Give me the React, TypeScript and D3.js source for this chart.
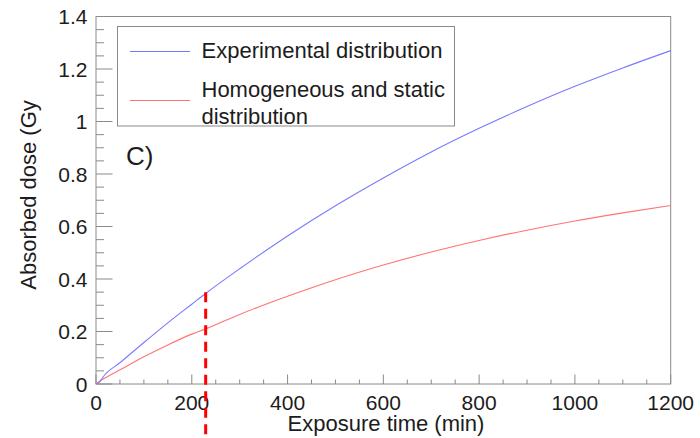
import React from "react";
import * as d3 from "d3";

const timeMin = [0, 8, 14, 50, 100, 150, 200, 229, 300, 400, 500, 600, 700, 800, 900, 1000, 1100, 1200];
const experimental = [0, 0.008, 0.025, 0.081, 0.158, 0.233, 0.304, 0.345, 0.439, 0.564, 0.679, 0.785, 0.884, 0.974, 1.057, 1.134, 1.204, 1.27];
const homogeneous = [0, 0.012, 0.018, 0.054, 0.104, 0.149, 0.19, 0.21, 0.265, 0.334, 0.397, 0.453, 0.503, 0.547, 0.586, 0.621, 0.652, 0.68];
const xTicks = [0, 200, 400, 600, 800, 1000, 1200];
const yTicks = [0, 0.2, 0.4, 0.6, 0.8, 1, 1.2, 1.4];
const markerTime = 229;
const markerTopDose = 0.35;
const legendLabels = ["Experimental distribution", ["Homogeneous and static", "distribution"]];
const panelLabel = "C)";
const xTitle = "Exposure time (min)";
const yTitle = "Absorbed dose (Gy";

const W = 700;
const H = 438;
const FONT = "'Liberation Sans', Arial, Helvetica, sans-serif";

export default function App() {
  const x = d3.scaleLinear().domain([0, 1200]).range([96, 670.7]);
  const y = d3.scaleLinear().domain([0, 1.4]).range([384, 16.5]);
  const line = (vals: number[]) =>
    d3
      .line<number>()
      .x((_, i) => x(timeMin[i]))
      .y((v) => y(v))
      .curve(d3.curveMonotoneX)(vals) || "";

  const xMinor = d3.range(0, 1201, 50);
  const yMinor = d3.range(0, 1.4001, 0.05);
  const axisColor = "#8a8a8a";
  const textColor = "#1c1c1c";
  const blue = "#7a7aff";
  const red = "#ff7474";

  return (
    <svg
      width={W}
      height={H}
      style={{ position: "absolute", left: 0, top: 0, background: "#fff" }}
      fontFamily={FONT}
    >
      <rect x={0} y={0} width={W} height={H} fill="#fff" />
      {/* frame */}
      <rect x={x(0)} y={y(1.4)} width={x(1200) - x(0)} height={y(0) - y(1.4)} fill="none" stroke={axisColor} strokeWidth={1} />
      {/* x ticks */}
      {xMinor.map((t) => {
        const major = t % 200 === 0;
        return <line key={"xt" + t} x1={x(t)} x2={x(t)} y1={y(0)} y2={y(0) - (major ? 9.5 : 4.5)} stroke={axisColor} strokeWidth={1} />;
      })}
      {/* y ticks */}
      {yMinor.map((v, i) => {
        const major = i % 4 === 0;
        return <line key={"yt" + i} x1={x(0)} x2={x(0) + (major ? 16.5 : 8)} y1={y(v)} y2={y(v)} stroke={axisColor} strokeWidth={1} />;
      })}
      {/* tick labels */}
      {xTicks.map((t) => (
        <text key={"xl" + t} x={x(t)} y={409.5} textAnchor="middle" fontSize={21} fill={textColor}>
          {t}
        </text>
      ))}
      {yTicks.map((v) => (
        <text key={"yl" + v} x={87.5} y={y(v) + 7.5} textAnchor="end" fontSize={21} fill={textColor}>
          {d3.format("~g")(v)}
        </text>
      ))}
      {/* axis titles */}
      <text x={386} y={431} textAnchor="middle" fontSize={22} fill={textColor}>
        {xTitle}
      </text>
      <text transform={`translate(36,195) rotate(-90)`} textAnchor="middle" fontSize={22} fill={textColor}>
        {yTitle}
      </text>
      {/* curves */}
      <path d={line(homogeneous)} fill="none" stroke={red} strokeWidth={1.1} />
      <path d={line(experimental)} fill="none" stroke={blue} strokeWidth={1.1} />
      {/* marker */}
      <line x1={x(markerTime)} x2={x(markerTime)} y1={y(markerTopDose)} y2={H} stroke="#ff0000" strokeWidth={3} strokeDasharray="10 6.5" />
      {/* legend */}
      <rect x={117.5} y={26.5} width={337} height={99.5} fill="#fff" stroke={axisColor} strokeWidth={1} />
      <line x1={130} x2={190} y1={51.5} y2={51.5} stroke={blue} strokeWidth={1.1} />
      <line x1={130} x2={190} y1={100.5} y2={100.5} stroke={red} strokeWidth={1.1} />
      <text x={201.5} y={57.5} fontSize={22} fill={textColor}>
        {legendLabels[0] as string}
      </text>
      <text x={201.5} y={96.5} fontSize={22} fill={textColor}>
        {(legendLabels[1] as string[])[0]}
      </text>
      <text x={201.5} y={123.5} fontSize={22} fill={textColor}>
        {(legendLabels[1] as string[])[1]}
      </text>
      {/* panel label */}
      <text x={126} y={164.5} fontSize={26} fill={textColor}>
        {panelLabel}
      </text>
    </svg>
  );
}
